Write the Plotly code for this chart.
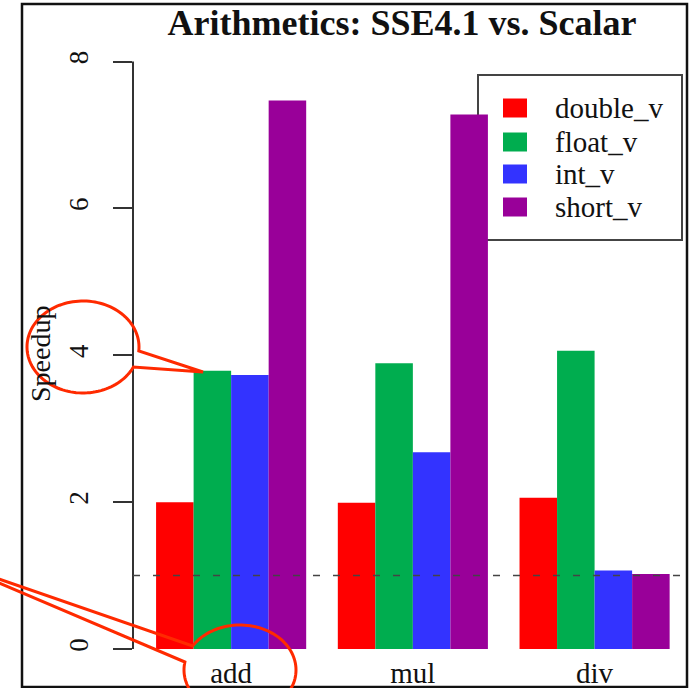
import numpy as np
import plotly.graph_objects as go

# Speedup of SSE4.1 vector code over scalar code, per arithmetic operation
operations = ["add", "mul", "div"]
series_names = ["double_v", "float_v", "int_v", "short_v"]
double_v = [2.00, 1.99, 2.06]
float_v = [3.79, 3.89, 4.06]
int_v = [3.73, 2.68, 1.07]
short_v = [7.47, 7.28, 1.02]
series_values = [double_v, float_v, int_v, short_v]
series_colors = ["#FF0000", "#00AD4F", "#3333FF", "#990099"]
y_ticks = [0, 2, 4, 6, 8]
baseline = 1.0

W_FIG, H_FIG = 693, 688
L, R, T, B = 133, 680, 38, 649
W, H = R - L, B - T


def px(x):
    return (x - L) / W


def py(y):
    return (B - y) / H


fig = go.Figure()
for name, vals, col in zip(series_names, series_values, series_colors):
    fig.add_trace(go.Bar(x=operations, y=vals, name=name,
                         marker=dict(color=col, line=dict(width=0)),
                         showlegend=False))

serif = "Liberation Serif, Times New Roman, serif"
shapes = []

# legend frame sits underneath the bars
shapes.append(dict(type="rect", xref="paper", yref="paper", layer="below",
                   x0=px(478), x1=px(682), y0=py(75), y1=py(240),
                   line=dict(color="#444444", width=2)))

# y axis line spanning the tick range only
shapes.append(dict(type="line", xref="paper", yref="y", x0=0, x1=0,
                   y0=y_ticks[0], y1=y_ticks[-1],
                   line=dict(color="#333333", width=2)))

# reference line at speedup = 1
shapes.append(dict(type="line", xref="paper", yref="y", x0=0, x1=1,
                   y0=baseline, y1=baseline,
                   line=dict(color="#444444", width=1.5, dash="7px,13px")))

# outer frame
shapes.append(dict(type="rect", xref="paper", yref="paper",
                   x0=px(22), x1=px(687), y0=py(4), y1=py(687),
                   line=dict(color="#111111", width=2.5)))


def callout(cx, cy, rx, ry, t_start, t_end, tip):
    t = np.linspace(t_start, t_end, 120)
    xs = cx + rx * np.cos(t)
    ys = cy + ry * np.sin(t)
    pts = [f"{px(a):.5f},{py(b):.5f}" for a, b in zip(xs, ys)]
    d = "M" + " L".join(pts) + f" L{px(tip[0]):.5f},{py(tip[1]):.5f} Z"
    return dict(type="path", xref="paper", yref="paper", path=d,
                line=dict(color="#FF2A00", width=3), layer="above")


# bubble around the "4" tick pointing at the float_v add bar
cx1, cy1, rx1, ry1 = 83, 347, 56, 46
ta = np.arcsin(4 / ry1)
tb = np.arcsin(20 / ry1)
shapes.append(callout(cx1, cy1, rx1, ry1, ta, tb - 2 * np.pi, (203, 372)))

# bubble around the "add" label with its tail running off to the left
cx2, cy2, rx2, ry2 = 240, 670, 56, 45
tc = np.pi + np.arcsin(24 / ry2)
td = np.pi + np.arcsin(8 / ry2)
shapes.append(callout(cx2, cy2, rx2, ry2, tc, td + 2 * np.pi, (-50, 562)))

annotations = [
    dict(text="Speedup", xref="paper", yref="paper", x=px(41), y=py(354),
         xanchor="center", yanchor="middle",
         textangle=-90, showarrow=False, font=dict(family=serif, size=28, color="#111111")),
]

# legend entries
entry_y = [108, 142, 174, 207]
for name, col, ey in zip(series_names, series_colors, entry_y):
    shapes.append(dict(type="rect", xref="paper", yref="paper", layer="above",
                       x0=px(503), x1=px(527), y0=py(ey - 9.5), y1=py(ey + 9.5),
                       fillcolor=col, line=dict(width=0)))
    annotations.append(dict(text=name, xref="paper", yref="paper",
                            x=px(553), y=py(ey), xanchor="left", yanchor="middle",
                            showarrow=False,
                            font=dict(family=serif, size=29, color="#111111")))

fig.update_layout(
    width=W_FIG, height=H_FIG,
    margin=dict(l=L, r=W_FIG - R, t=T, b=H_FIG - B, pad=0, autoexpand=False),
    paper_bgcolor="white", plot_bgcolor="white",
    barmode="group", bargap=0.174, bargroupgap=0,
    title=dict(text="Arithmetics: SSE4.1 vs. Scalar", x=px(402), xref="paper",
               y=1 - 22 / H_FIG, yref="container", xanchor="center", yanchor="middle",
               automargin=False,
               font=dict(family=serif, size=36, color="#111111", weight="bold")),
    xaxis=dict(range=[-0.54, 2.47], showgrid=False, zeroline=False, showline=False,
               automargin=False,
               ticks="", tickfont=dict(family=serif, size=29, color="#111111"),
               ticklabelstandoff=4),
    yaxis=dict(range=[0, 8.32], tickvals=y_ticks, showgrid=False, zeroline=False,
               showline=False, ticks="outside", ticklen=19, tickwidth=2,
               automargin=False,
               tickcolor="#333333", tickangle=-90,
               tickfont=dict(family=serif, size=27, color="#111111"),
               ticklabelstandoff=14),
    shapes=shapes,
    annotations=annotations,
)

fig.write_html("out.html")
